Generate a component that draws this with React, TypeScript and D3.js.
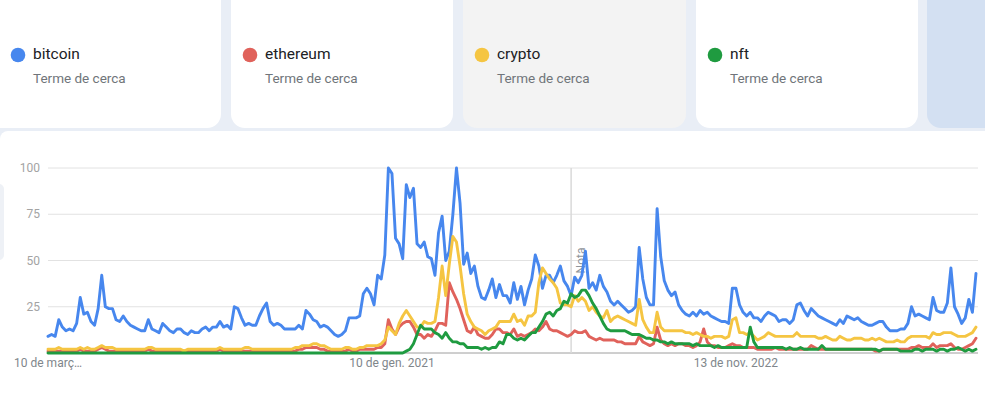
import React from 'react';
import * as d3 from 'd3';

// weekly Google Trends interest, first week 10 March 2019
const firstWeek = '2019-03-10';

const bitcoin = [
  9, 10, 9, 18, 14, 12, 13, 12, 16, 30,
  21, 22, 17, 15, 24, 42, 25, 24, 24, 18,
  17, 20, 17, 15, 14, 13, 12, 12, 18, 13,
  12, 11, 16, 14, 12, 11, 13, 13, 11, 10,
  12, 11, 11, 13, 14, 12, 14, 14, 17, 14,
  15, 13, 25, 24, 19, 15, 16, 15, 15, 20,
  24, 27, 17, 15, 16, 15, 13, 13, 13, 13,
  15, 13, 23, 21, 18, 17, 14, 15, 14, 12,
  10, 9, 10, 12, 19, 19, 19, 20, 32, 35,
  32, 26, 42, 40, 53, 100, 97, 62, 59, 51,
  91, 84, 89, 59, 57, 60, 52, 51, 42, 65,
  74, 50, 55, 75, 100, 81, 48, 54, 43, 47,
  36, 30, 29, 34, 40, 30, 37, 31, 31, 27,
  38, 29, 36, 26, 34, 40, 53, 47, 35, 42,
  42, 38, 42, 47, 39, 36, 31, 41, 38, 42,
  55, 35, 38, 34, 42, 36, 33, 28, 26, 28,
  26, 24, 22, 23, 25, 57, 40, 30, 26, 26,
  78, 52, 39, 34, 31, 33, 26, 23, 21, 20,
  22, 20, 23, 21, 22, 20, 19, 18, 17, 17,
  16, 35, 35, 26, 22, 20, 22, 19, 19, 17,
  20, 22, 21, 20, 17, 18, 18, 16, 18, 26,
  27, 23, 20, 24, 22, 20, 19, 18, 17, 16,
  15, 18, 16, 20, 19, 18, 19, 17, 16, 15,
  15, 16, 17, 17, 14, 12, 12, 12, 13, 13,
  16, 25, 20, 21, 20, 19, 18, 30, 23, 22,
  22, 27, 46, 25, 21, 16, 19, 29, 22, 43,
];

const ethereum = [
  1, 1, 1, 1, 1, 1, 1, 1, 1, 2,
  1, 1, 1, 1, 2, 3, 2, 1, 1, 1,
  1, 1, 1, 1, 1, 1, 1, 1, 2, 1,
  1, 1, 1, 1, 1, 1, 1, 1, 1, 1,
  1, 1, 1, 1, 1, 1, 1, 1, 2, 1,
  1, 1, 1, 1, 1, 1, 1, 1, 1, 1,
  1, 1, 1, 1, 1, 1, 1, 1, 1, 1,
  2, 2, 3, 3, 3, 3, 2, 2, 1, 1,
  1, 1, 1, 1, 2, 1, 1, 2, 2, 2,
  2, 2, 3, 3, 5, 18, 13, 10, 14, 16,
  17, 17, 14, 10, 10, 8, 10, 9, 12, 16,
  16, 15, 38, 33, 29, 24, 18, 12, 11, 14,
  10, 9, 8, 8, 10, 13, 13, 11, 11, 10,
  13, 9, 10, 9, 10, 11, 13, 12, 14, 17,
  13, 12, 12, 11, 10, 9, 10, 12, 11, 11,
  12, 9, 8, 7, 8, 7, 7, 7, 7, 6,
  6, 5, 5, 5, 5, 9, 6, 5, 4, 5,
  14, 7, 5, 4, 5, 4, 5, 5, 4, 4,
  3, 4, 6, 13, 6, 4, 4, 3, 3, 3,
  4, 5, 4, 4, 3, 3, 3, 3, 2, 2,
  2, 2, 2, 3, 2, 2, 2, 2, 2, 2,
  2, 2, 2, 4, 3, 2, 2, 2, 2, 2,
  2, 2, 2, 2, 2, 2, 2, 2, 2, 2,
  2, 1, 1, 2, 2, 2, 2, 2, 2, 2,
  2, 3, 3, 4, 3, 3, 3, 5, 3, 4,
  4, 4, 5, 3, 2, 2, 3, 4, 5, 8,
];

const cryptoTerm = [
  2, 2, 2, 3, 2, 2, 2, 2, 2, 3,
  2, 3, 2, 2, 3, 4, 3, 3, 3, 2,
  2, 2, 2, 2, 2, 2, 2, 2, 3, 3,
  2, 2, 2, 2, 2, 2, 2, 2, 1, 2,
  2, 2, 2, 2, 2, 2, 2, 2, 3, 2,
  2, 2, 2, 2, 2, 3, 3, 2, 2, 2,
  2, 2, 2, 2, 2, 2, 2, 2, 2, 3,
  3, 4, 4, 4, 5, 5, 4, 4, 3, 2,
  2, 2, 2, 3, 3, 2, 2, 3, 3, 4,
  4, 4, 4, 5, 7, 14, 12, 10, 16, 20,
  23, 20, 17, 14, 14, 17, 16, 16, 17, 30,
  47, 31, 48, 63, 60, 47, 32, 21, 17, 14,
  13, 12, 10, 12, 13, 14, 17, 17, 17, 17,
  21, 17, 18, 15, 20, 20, 22, 38, 46, 43,
  40, 38, 35, 27, 26, 26, 25, 31, 28, 30,
  28, 23, 25, 22, 20, 19, 23, 17, 19, 20,
  19, 18, 17, 16, 15, 29, 18, 14, 11, 11,
  22, 14, 12, 12, 12, 12, 12, 12, 11, 11,
  10, 11, 10, 9, 9, 8, 9, 9, 9, 8,
  9, 18, 19, 11, 11, 10, 11, 9, 7, 8,
  9, 11, 10, 9, 9, 9, 9, 9, 9, 11,
  9, 9, 9, 9, 9, 8, 8, 9, 8, 7,
  7, 9, 8, 7, 7, 8, 8, 8, 7, 7,
  8, 7, 8, 7, 6, 6, 6, 7, 6, 6,
  8, 9, 9, 9, 9, 9, 8, 11, 10, 10,
  11, 11, 11, 10, 9, 9, 9, 10, 11, 14,
];

const nft = [
  0, 0, 0, 0, 0, 0, 0, 0, 0, 0,
  0, 0, 0, 0, 0, 0, 0, 0, 0, 0,
  0, 0, 0, 0, 0, 0, 0, 0, 0, 0,
  0, 0, 0, 0, 0, 0, 0, 0, 0, 0,
  0, 0, 0, 0, 0, 0, 0, 0, 0, 0,
  0, 0, 0, 0, 0, 0, 0, 0, 0, 0,
  0, 0, 0, 0, 0, 0, 0, 0, 0, 0,
  0, 0, 0, 0, 0, 0, 0, 0, 0, 0,
  0, 0, 0, 0, 0, 0, 0, 0, 0, 0,
  0, 0, 0, 0, 0, 0, 0, 0, 0, 0,
  1, 2, 5, 10, 15, 13, 13, 13, 11, 10,
  8, 11, 8, 6, 6, 5, 5, 3, 3, 3,
  3, 2, 3, 2, 3, 3, 6, 5, 10, 10,
  8, 7, 8, 7, 9, 11, 11, 14, 17, 21,
  22, 20, 23, 24, 28, 27, 32, 30, 31, 34,
  34, 31, 27, 24, 20, 16, 13, 12, 12, 12,
  12, 12, 11, 10, 10, 10, 9, 8, 8, 7,
  7, 6, 6, 5, 6, 5, 5, 5, 5, 5,
  4, 5, 4, 4, 4, 4, 3, 4, 3, 3,
  3, 3, 3, 3, 3, 3, 14, 6, 3, 3,
  3, 3, 3, 3, 3, 3, 2, 3, 2, 2,
  3, 2, 2, 2, 2, 2, 4, 2, 2, 2,
  2, 2, 2, 2, 2, 2, 2, 2, 2, 2,
  2, 2, 1, 2, 2, 2, 2, 2, 1, 1,
  1, 1, 2, 2, 1, 2, 2, 2, 1, 2,
  2, 1, 2, 2, 3, 2, 1, 2, 1, 2,
];

const termNames = ['bitcoin', 'ethereum', 'crypto', 'nft'];
const termColors = ['#4787ee', '#e0625b', '#f5c542', '#1f9b40'];
const termSubtitle = 'Terme de cerca';

const yTicks = [25, 50, 75, 100];
const xTickDates = ['2019-03-10', '2021-01-10', '2022-11-13'];
const xTickLabels = ['10 de març…', '10 de gen. 2021', '13 de nov. 2022'];
const noteDate = '2021-12-26';
const noteLabel = 'Nota';

const W = 985;
const H = 405;
const pageBg = '#e9eef6';

// legend cards across the top (layout only)
const cards = [
  { x: -20, w: 241, fill: '#ffffff' },
  { x: 231, w: 222, fill: '#ffffff' },
  { x: 463, w: 223, fill: '#f3f3f3' },
  { x: 696, w: 222, fill: '#ffffff' },
];

const parse = d3.utcParse('%Y-%m-%d');

const App: React.FC = () => {
  const start = parse(firstWeek) as Date;
  const dates = bitcoin.map((_, i) => d3.utcDay.offset(start, i * 7));

  const x = d3.scaleUtc()
    .domain([dates[0], dates[dates.length - 1]])
    .range([48, 976]);
  const y = d3.scaleLinear().domain([0, 100]).range([353, 168]);

  const series = [bitcoin, ethereum, cryptoTerm, nft];
  const line = d3.line<number>()
    .x((_, i) => x(dates[i]))
    .y((d) => y(d));

  const gridLeft = 48;
  const gridRight = 978;
  const noteX = x(parse(noteDate) as Date);
  const font = 'Roboto, Arial, sans-serif';

  return (
    <svg
      width={W}
      height={H}
      style={{ position: 'absolute', left: 0, top: 0, display: 'block' }}
      fontFamily={font}
    >
      <rect x={0} y={0} width={W} height={H} fill={pageBg} />

      {cards.map((c, i) => (
        <g key={termNames[i]}>
          <rect x={c.x} y={-20} width={c.w} height={148} rx={14} fill={c.fill} />
          <circle cx={c.x < 0 ? 18 : c.x + 19} cy={55} r={7.3} fill={termColors[i]} />
          <text x={c.x < 0 ? 33 : c.x + 34} y={59} fontSize={15.5} fill="#202124">
            {termNames[i]}
          </text>
          <text x={c.x < 0 ? 33 : c.x + 34} y={83} fontSize={13.5} fill="#70757a">
            {termSubtitle}
          </text>
        </g>
      ))}
      <rect x={927} y={-20} width={80} height={148} rx={14} fill="#d3e0f2" />

      {/* chart panel */}
      <rect x={0} y={131} width={W + 10} height={H} rx={8} fill="#ffffff" />
      <rect x={-8} y={184} width={12} height={76} rx={5} fill="#eef1f6" />

      {yTicks.map((t) => (
        <g key={t}>
          <line x1={gridLeft} x2={gridRight} y1={y(t)} y2={y(t)} stroke="#e2e2e2" strokeWidth={1} />
          <text
            x={40}
            y={y(t)}
            textAnchor="end"
            dominantBaseline="central"
            fontSize={12}
            fill="#a3a3a3"
          >
            {t}
          </text>
        </g>
      ))}
      <line x1={gridLeft} x2={gridRight} y1={y(0)} y2={y(0)} stroke="#9e9e9e" strokeWidth={1} />

      {xTickDates.map((d, i) => (
        <text
          key={d}
          x={x(parse(d) as Date)}
          y={367}
          textAnchor="middle"
          fontSize={12}
          fill="#80868b"
        >
          {xTickLabels[i]}
        </text>
      ))}

      <line x1={noteX} x2={noteX} y1={y(100)} y2={y(0)} stroke="#d9d9d9" strokeWidth={1.5} />
      <text
        transform={`translate(${noteX + 10},${y(50)}) rotate(-90)`}
        textAnchor="middle"
        dominantBaseline="central"
        fontSize={12}
        fill="#8f959b"
      >
        {noteLabel}
      </text>

      {series.map((s, i) => (
        <path
          key={termNames[i]}
          d={line(s) ?? ''}
          fill="none"
          stroke={termColors[i]}
          strokeWidth={2.9}
          strokeLinejoin="round"
          strokeLinecap="round"
        />
      ))}
    </svg>
  );
};

export default App;
